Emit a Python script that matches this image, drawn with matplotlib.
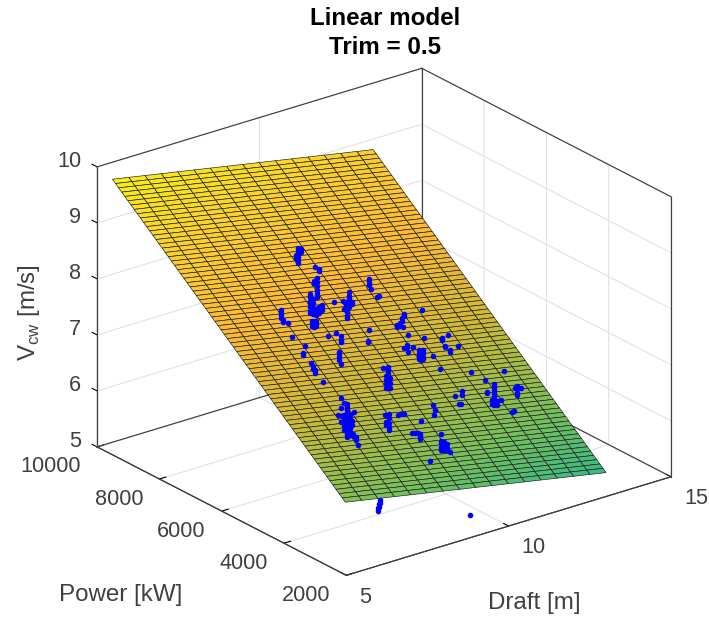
import numpy as np
import matplotlib
matplotlib.use("Agg")
import matplotlib.pyplot as plt
from matplotlib.colors import LinearSegmentedColormap, Normalize

plt.rcParams["font.family"] = ["Liberation Sans", "DejaVu Sans"]
plt.rcParams["mathtext.fontset"] = "custom"
plt.rcParams["mathtext.rm"] = "Liberation Sans"

# fitted plane corners (draft, power, v)
draft_range = [5.355, 13.385]
power_range = [2400, 9880]
v_corners = [[6.128, 5.244], [9.751, 8.867]]  # [power low: draft low, high], [power high: ...]
n_draft = 17
n_power = 76

# measurements: one draft/power pair, one or more speeds
draft = [8.92, 8.97, 9.21, 9.35, 9.30, 8.76, 8.96, 8.44, 8.52, 8.23, 8.30, 8.36, 8.49, 8.64, 8.02, 8.06, 8.13,
         7.30, 7.27, 7.40, 7.22, 7.43, 7.16, 7.23, 7.18, 7.15, 7.18, 8.27, 8.56, 8.52, 8.09, 8.06, 9.47, 9.44, 9.62,
         9.18, 9.30, 9.42, 9.14, 10.47, 10.47, 10.45, 10.55, 9.56, 9.29, 10.85, 10.69, 10.53, 10.43, 10.62, 11.49,
         10.57, 10.30, 10.19, 10.22, 10.47, 10.39, 10.43, 10.51, 10.97, 10.86, 10.81, 11.69, 11.44, 11.38, 11.42,
         11.75, 8.91, 8.85, 8.97, 9.18, 7.36, 7.36, 6.73, 6.78, 6.85, 6.92, 6.92, 6.89, 6.92, 7.02, 8.07, 8.11, 8.27,
         8.64, 8.74, 8.83, 9.86, 9.82, 9.67, 9.17, 8.66, 8.84, 8.75, 8.79, 9.49, 9.16, 9.23, 9.31, 9.36, 8.62, 11.61,
         11.82, 12.57, 11.63, 10.96, 10.88, 10.66, 10.61, 10.66, 11.58, 11.67, 11.55, 11.89, 12.45, 12.68, 12.51,
         12.05, 11.95, 6.25, 6.31, 6.34, 9.09, 6.86, 7.12, 7.44, 7.15, 8.43, 8.56]
power = [7627, 7739, 7857, 7405, 7502, 6854, 7160, 6742, 6735, 6528, 6500, 6472, 6506, 6564, 6245, 6219, 6236,
         6492, 6402, 6369, 6059, 5856, 5647, 5457, 5345, 5254, 5021, 5992, 6038, 5833, 5452, 5363, 6562, 6633, 6619,
         6331, 6552, 6705, 6706, 6986, 6894, 6710, 6724, 6021, 5767, 6235, 6133, 6031, 6017, 6024, 6320,
         5819, 5565, 5551, 5455, 5550, 5279, 5253, 5269, 5716, 5310, 5035, 5724, 5630, 5472, 5353,
         5465, 4734, 4739, 4729, 5174, 4635, 4542, 3786, 3943, 3822, 3792, 3700, 3609, 4279, 4247, 3834, 3969, 4164,
         4133, 4146, 4139, 4283, 4171, 4045, 3948, 3714, 3699, 3706, 3587, 3643, 3300, 3272, 3264, 3214, 3092, 4874,
         4671, 4816, 4386, 4490, 4404, 4400, 4219, 4214, 4113, 4106, 4139, 4203, 4270, 4413, 4427,
         3957, 3919, 2300, 2300, 2300, 2300, 4122, 4031, 4304, 4421, 6673, 6616]
vcw = [[8.27, 8.32, 8.38, 8.43, 8.49, 8.54], [8.32, 8.37], [8.35, 8.40], [8.11, 8.15], [8.17],
       [7.91, 7.98, 8.05, 8.12, 8.19, 8.25], [8.04, 8.08], [7.89, 7.94, 8.00, 8.05], [7.88, 7.95],
       [7.81, 7.86, 7.92], [7.79, 7.84, 7.90], [7.77, 7.82, 7.88], [7.77, 7.82, 7.88], [7.78, 7.83, 7.87],
       [7.70, 7.75, 7.79], [7.68, 7.73, 7.77], [7.68, 7.73, 7.77],
       [7.90, 7.95, 8.00, 8.04], [7.86, 7.89], [7.83], [7.70], [7.57], [7.50, 7.55], [7.40], [7.35, 7.40],
       [7.31, 7.35], [7.20], [7.55], [7.54], [7.44, 7.49, 7.55], [7.31, 7.36, 7.41, 7.45], [7.27],
       [7.69, 7.74, 7.80, 7.85, 7.90, 7.96], [7.73, 7.77], [7.70, 7.75],
       [7.61, 7.66, 7.72], [7.70], [7.77], [7.80], [7.79, 7.84, 7.90], [7.74], [7.66], [7.65], [7.42], [7.33, 7.35],
       [7.38, 7.43], [7.35, 7.40], [7.32, 7.37], [7.32, 7.36], [7.30], [7.35],
       [7.21], [7.12, 7.15], [7.12], [7.07], [7.09], [6.97, 7.02, 7.08, 7.13], [6.95, 7.00, 7.06, 7.11],
       [6.95, 7.00, 7.06, 7.11], [7.12], [6.93], [6.80], [7.04], [7.02, 7.06], [6.95, 6.98], [6.89, 6.93],
       [6.91], [6.87, 6.92, 6.98, 7.03, 7.09, 7.14, 7.20, 7.25], [6.88, 6.95, 7.02, 7.09], [6.86, 6.95, 7.04], [7.05],
       [6.99], [6.94], [6.65, 6.70, 6.76, 6.81, 6.86, 6.92, 6.97, 7.03, 7.08, 7.13, 7.19, 7.24],
       [6.72, 6.79, 6.86, 6.93, 7.00], [6.65, 6.72, 6.79, 6.87, 6.94, 7.01], [6.63, 6.68], [6.59, 6.64], [6.54],
       [6.87], [6.84], [6.52, 6.59, 6.66, 6.74, 6.81], [6.58, 6.62], [6.66],
       [6.61], [6.60], [6.59], [6.54], [6.49], [6.45], [6.46], [6.40], [6.37], [6.39], [6.32, 6.36, 6.40], [6.27],
       [6.14, 6.19, 6.25, 6.30], [6.12, 6.17, 6.23, 6.28], [6.11, 6.16, 6.22], [6.08], [6.10], [6.64],
       [6.52], [6.50], [6.40, 6.43], [6.52], [6.49], [6.51], [6.43], [6.42],
       [6.27, 6.32, 6.38, 6.43, 6.49, 6.54, 6.60, 6.65], [6.26, 6.33], [6.29, 6.36], [6.28],
       [6.25, 6.30, 6.36, 6.41], [6.30], [6.32], [6.14], [6.14], [5.85, 5.90], [5.90, 5.95], [5.97, 6.02], [5.27],
       [6.80], [6.72, 6.80], [6.82], [6.91], [7.86], [7.82]]

draft_ticks = [5, 10, 15]
power_ticks = [2000, 4000, 6000, 8000, 10000]
v_ticks = [5, 6, 7, 8, 9, 10]

surf_levels = [5.2, 6.0, 7.0, 8.0, 9.0, 9.75]
surf_colors = ["#34b887", "#7abf5a", "#cdb937", "#fcb937", "#fad22d", "#f8ee14"]

fig = plt.figure(figsize=(7.09, 6.19), dpi=100)
ax = fig.add_axes([0.0299, -0.0334, 1.0, 1.0], projection="3d", proj_type="ortho", computed_zorder=False)
ax.view_init(elev=23.3, azim=-127.5)
ax.set_box_aspect((1, 1, 0.745), zoom=1.026)

d = np.linspace(draft_range[0], draft_range[1], n_draft)
p = np.linspace(power_range[0], power_range[1], n_power)
D, P = np.meshgrid(d, p)
tx = (D - draft_range[0]) / (draft_range[1] - draft_range[0])
ty = (P - power_range[0]) / (power_range[1] - power_range[0])
Z = (v_corners[0][0] * (1 - tx) + v_corners[0][1] * tx) * (1 - ty) + (v_corners[1][0] * (1 - tx) + v_corners[1][1] * tx) * ty

lo, hi = surf_levels[0], surf_levels[-1]
cmap = LinearSegmentedColormap.from_list("part", [((v - lo) / (hi - lo), c) for v, c in zip(surf_levels, surf_colors)])
ax.plot_surface(D, P, Z, rstride=1, cstride=1, cmap=cmap, norm=Normalize(lo, hi), edgecolor="#181818",
                linewidth=0.45, shade=False, antialiased=True, zorder=1)

xs, ys, zs = [], [], []
for a, b, c in zip(draft, power, vcw):
    for v in c:
        xs.append(a)
        ys.append(b)
        zs.append(v)
ax.scatter(xs, ys, zs, s=16, c="#0000ff", linewidths=0, depthshade=False, zorder=2)

ax.set_xlim(5, 15)
ax.set_ylim(2000, 10000)
ax.set_zlim(5, 10)
ax.set_xticks(draft_ticks)
ax.set_yticks(power_ticks)
ax.set_zticks(v_ticks)
ax.set_xticklabels([])
ax.set_yticklabels([])
ax.set_zticklabels([])

for axis in (ax.xaxis, ax.yaxis, ax.zaxis):
    axis.set_pane_color((1, 1, 1, 1))
    axis.pane.set_edgecolor("white")
    axis.line.set_color("#404040")
    axis.line.set_linewidth(0.8)
    axis._axinfo["grid"]["color"] = "#e2e2e2"
    axis._axinfo["grid"]["linewidth"] = 0.8
    axis._axinfo["tick"]["inward_factor"] = 0.0
    axis._axinfo["tick"]["outward_factor"] = 0.25
    axis._axinfo["tick"]["color"] = "#404040"
    axis._axinfo["tick"]["linewidth"] = {True: 0.8, False: 0.5}

ax.zaxis.set_ticks_position("upper")
# ticks point along the floor as in the reference
ax.xaxis._get_tickdir = lambda pos: 1
ax.yaxis._get_tickdir = lambda pos: 0
ax.zaxis._get_tickdir = lambda pos: 1

# box edges on top of the grid
edge_x = [[5, 15], [15, 15], [15, 5], [5, 5], [5, 5], [15, 15], [15, 15], [15, 5], [15, 15]]
edge_y = [[2000, 2000], [2000, 10000], [10000, 10000], [10000, 2000], [10000, 10000], [10000, 10000], [2000, 2000], [10000, 10000], [10000, 2000]]
edge_z = [[5, 5], [5, 5], [5, 5], [5, 5], [5, 10], [5, 10], [5, 10], [10, 10], [10, 10]]
for ex, ey, ez in zip(edge_x, edge_y, edge_z):
    ax.plot(ex, ey, ez, color="#404040", lw=0.85, zorder=0.5)

# tick labels, offset a little off the box in data units
for t in draft_ticks:
    ax.text(t, 2000 - 416, 5 - 0.27, str(t), fontsize=15.6, color="#404040", ha="left", va="center")
for t in power_ticks:
    ax.text(5 - 0.5, t, 5 - 0.27, str(t), fontsize=15.6, color="#404040", ha="right", va="center")
for t in v_ticks:
    ax.text(5, 10000 + 512, t - 0.05, str(t), fontsize=15.6, color="#404040", ha="right", va="center")

fig.text(534 / 709, 1 - 603 / 619, "Draft [m]", fontsize=17.4, color="#404040", ha="center", va="center")
fig.text(121 / 709, 1 - 595 / 619, "Power [kW]", fontsize=17.4, color="#404040", ha="center", va="center")
fig.text(29 / 709, 1 - 313 / 619, r"V$_{\mathrm{cw}}$ [m/s]", fontsize=17.4, color="#404040", ha="center", va="center", rotation=90)
fig.text(385 / 709, 1 - 33 / 619, "Linear model\nTrim = 0.5", fontsize=17.4, fontweight="bold", ha="center", va="center", linespacing=1.35)

fig.savefig("out.png", dpi=100)
